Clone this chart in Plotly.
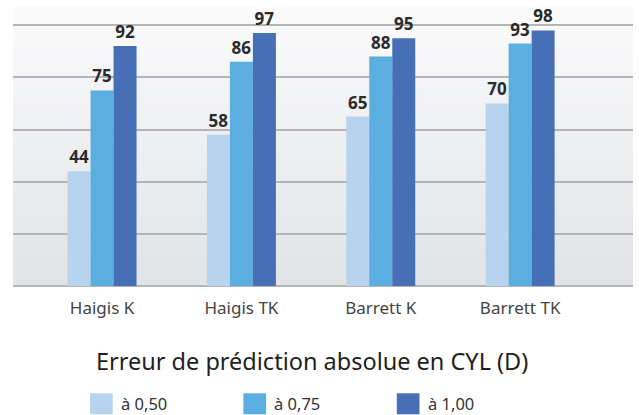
import plotly.graph_objects as go

categories = ["Haigis K", "Haigis TK", "Barrett K", "Barrett TK"]
series_names = ["à 0,50", "à 0,75", "à 1,00"]
vals_050 = [44, 58, 65, 70]
vals_075 = [75, 86, 88, 93]
vals_100 = [92, 97, 95, 98]
series_values = [vals_050, vals_075, vals_100]
colors = ["#b8d3ee", "#5aaee0", "#476fb6"]
x_title = "Erreur de prédiction absolue en CYL (D)"

W, H = 639, 415
ml, mr, mt, mb = 13, 6, 7, 129
pw, ph = W - ml - mr, H - mt - mb

fig = go.Figure()
for name, vals, col in zip(series_names, series_values, colors):
    fig.add_trace(go.Bar(
        x=categories, y=vals, name=name, marker=dict(color=col, line=dict(width=0)),
        text=[str(v) for v in vals], textposition="outside",
        textfont=dict(family="Noto Sans", size=17, color="#2a2a2a", weight="bold"),
        cliponaxis=False, showlegend=False, hoverinfo="skip",
    ))

# gradient background stripes
shapes = []
n = 60
top = (0xfb, 0xfb, 0xfc)
bot = (0xe1, 0xe3, 0xe6)
for i in range(n):
    t = (i + 0.5) / n
    c = tuple(round(bot[k] + (top[k] - bot[k]) * t) for k in range(3))
    shapes.append(dict(type="rect", xref="paper", yref="paper", x0=0, x1=1,
                       y0=i / n, y1=(i + 1) / n + 0.002, line=dict(width=0),
                       fillcolor="rgb(%d,%d,%d)" % c, layer="below"))

def px_x(x):
    return (x - ml) / pw

def px_y(y):
    return ((H - mb) - y) / ph

annotations = [dict(text=x_title, xref="paper", yref="paper",
                    x=px_x(311.5), y=px_y(360.5), showarrow=False,
                    xanchor="center", yanchor="middle",
                    font=dict(family="Noto Sans", size=23.5, color="#231f20"))]

# manual legend (large square swatches)
for i, (name, col) in enumerate(zip(series_names, colors)):
    x0 = 90 + i * 153.4
    shapes.append(dict(type="rect", xref="paper", yref="paper",
                       x0=px_x(x0), x1=px_x(x0 + 22.7),
                       y0=px_y(393.3), y1=px_y(414.3),
                       line=dict(width=0), fillcolor=col))
    annotations.append(dict(text=name, xref="paper", yref="paper",
                            x=px_x(x0 + 29), y=px_y(403.5),
                            showarrow=False, xanchor="left", yanchor="middle",
                            font=dict(family="Noto Sans", size=16.5, color="#333333")))

fig.update_layout(
    width=W, height=H, margin=dict(l=ml, r=mr, t=mt, b=mb),
    paper_bgcolor="white", plot_bgcolor="white",
    barmode="group", bargap=0.505, bargroupgap=0,
    shapes=shapes, annotations=annotations, showlegend=False,
    xaxis=dict(range=[-0.639, 3.81], showgrid=False, zeroline=False, showline=False,
               ticks="", ticklabelstandoff=10,
               tickfont=dict(family="Noto Sans", size=17, color="#444444")),
    yaxis=dict(range=[0, 107], dtick=20, showticklabels=False, showgrid=True,
               gridcolor="#b3b5b8", gridwidth=1.5, zeroline=True,
               zerolinecolor="#b3b5b8", zerolinewidth=2, ticks=""),
    font=dict(family="Noto Sans"),
)

fig.write_html("out.html", config={"displayModeBar": False},
               post_script="document.body.style.margin='0';")
